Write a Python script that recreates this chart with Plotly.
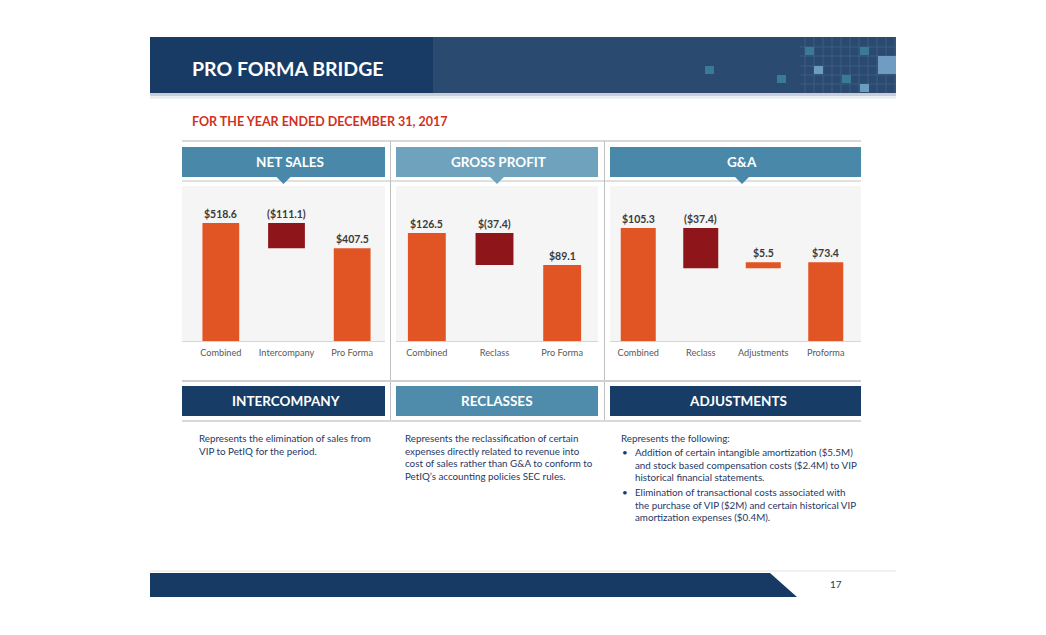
import plotly.graph_objects as go

W, H = 1046, 635
OFF = 8  # page body margin compensation
def px(x): return (x - OFF) / W
def py(y): return 1 - (y - OFF) / H

FONT = "Lato"
ORANGE = "#e05523"
DARKRED = "#8e161b"

# ---------------- data ----------------
ns_cats = ["Combined", "Intercompany", "Pro Forma"]
ns_vals = [518.6, -111.1, 407.5]
ns_meas = ["absolute", "relative", "total"]
ns_text = ["$518.6", "($111.1)", "$407.5"]

gp_cats = ["Combined", "Reclass", "Pro Forma"]
gp_vals = [126.5, -37.4, 89.1]
gp_meas = ["absolute", "relative", "total"]
gp_text = ["$126.5", "$(37.4)", "$89.1"]

ga_cats = ["Combined", "Reclass", "Adjustments", "Proforma"]
ga_vals = [105.3, -37.4, 5.5, 73.4]
ga_meas = ["absolute", "relative", "relative", "total"]
ga_text = ["$105.3", "($37.4)", "$5.5", "$73.4"]

panel_titles = ["NET SALES", "GROSS PROFIT", "G&A"]
bottom_titles = ["INTERCOMPANY", "RECLASSES", "ADJUSTMENTS"]

fig = go.Figure()

panels = [
    (ns_cats, ns_vals, ns_meas, ns_text, "x", "y"),
    (gp_cats, gp_vals, gp_meas, gp_text, "x2", "y2"),
    (ga_cats, ga_vals, ga_meas, ga_text, "x3", "y3"),
]

annotations = []
for cats, vals, meas, texts, xa, ya in panels:
    fig.add_trace(go.Waterfall(
        x=cats, y=vals, measure=meas, xaxis=xa, yaxis=ya,
        width=0.56,
        connector=dict(visible=False),
        increasing=dict(marker=dict(color=ORANGE)),
        decreasing=dict(marker=dict(color=DARKRED)),
        totals=dict(marker=dict(color=ORANGE)),
        textposition="none", hoverinfo="x+y", showlegend=False,
    ))
    cum = 0.0
    for c, v, m, t in zip(cats, vals, meas, texts):
        if m == "relative":
            before = cum
            cum += v
            top = max(before, cum)
        else:
            cum = v
            top = v
        annotations.append(dict(
            x=c, y=top, xref=xa, yref=ya, text=t, showarrow=False,
            yanchor="bottom", yshift=1,
            font=dict(family=FONT, size=10.5, color="#3a3a3a", weight="bold"),
        ))

ydom = [py(341), py(185)]
layout_axes = dict(
    xaxis=dict(domain=[px(188), px(385)], anchor="y"),
    xaxis2=dict(domain=[px(393), px(596)], anchor="y2"),
    xaxis3=dict(domain=[px(607), px(857)], anchor="y3"),
    yaxis=dict(domain=ydom, range=[0, 685.6], anchor="x"),
    yaxis2=dict(domain=ydom, range=[0, 182.7], anchor="x2"),
    yaxis3=dict(domain=ydom, range=[0, 145.4], anchor="x3"),
)
for k, v in layout_axes.items():
    if k.startswith("x"):
        v.update(showgrid=False, zeroline=False, showline=False, ticks="",
                 ticklabelstandoff=5,
                 tickfont=dict(family=FONT, size=9.2, color="#595959"),
                 fixedrange=True)
    else:
        v.update(visible=False, fixedrange=True)

shapes = []
def rect(x0, y0, x1, y1, color, layer="below"):
    shapes.append(dict(type="rect", xref="paper", yref="paper",
                       x0=px(x0), x1=px(x1), y0=py(y1), y1=py(y0),
                       fillcolor=color, line=dict(width=0), layer=layer))
def hline(x0, x1, y, color, w=1):
    shapes.append(dict(type="line", xref="paper", yref="paper",
                       x0=px(x0), x1=px(x1), y0=py(y), y1=py(y),
                       line=dict(color=color, width=w), layer="below"))
def vline(x, y0, y1, color, w=1):
    shapes.append(dict(type="line", xref="paper", yref="paper",
                       x0=px(x), x1=px(x), y0=py(y0), y1=py(y1),
                       line=dict(color=color, width=w), layer="below"))
def poly(pts, color, layer="below"):
    d = "M " + " L ".join(f"{px(a)},{py(b)}" for a, b in pts) + " Z"
    shapes.append(dict(type="path", xref="paper", yref="paper", path=d,
                       fillcolor=color, line=dict(width=0), layer=layer))

# header banner
rect(150, 37, 433, 93, "#173b65")
rect(433, 37, 896, 93, "#2b4a70")
rect(150, 93, 896, 96, "#c9ced6")
rect(150, 96, 896, 99, "#eceff2")
for gx in range(805, 896, 9):
    vline(gx, 37, 93, "#3d5c82")
for gy in [47, 56, 66, 75, 84]:
    hline(800, 896, gy, "#3d5c82")
for (x0, y0, c) in [(705, 66, "#3a7a96"), (777, 75, "#3a7a96"), (805, 47, "#3a7a96"),
                    (814, 66, "#6b9dc0"), (842, 75, "#3a7a96"), (860, 47, "#3a7a96"),
                    (860, 84, "#6b9dc0")]:
    rect(x0, y0, x0 + 9, y0 + 8, c)
rect(878, 56, 896, 74, "#6f9cc0")

# chart region frame lines
hline(182, 861, 141, "#d9d9d9", 2)
hline(182, 861, 181, "#e0e0e0", 2)
vline(390.5, 141, 422, "#bfbfbf", 1)
vline(604.5, 141, 422, "#bfbfbf", 1)

# chart backgrounds & baselines
for x0, x1 in [(182, 385), (396, 598), (610, 861)]:
    rect(x0, 186, x1, 341, "#f5f5f5")
    hline(x0, x1, 341.5, "#d6d6d6", 1)

# panel headers with pointer
for (x0, x1, c, cx) in [(182, 385, "#4a88a9", 283.5), (396, 598, "#6fa3bd", 497),
                        (610, 861, "#4a88a9", 742)]:
    rect(x0, 147, x1, 177, c)
    poly([(cx - 7, 177), (cx + 7, 177), (cx, 184)], c)

# bottom headers
hline(182, 861, 381, "#cfcfcf", 2)
hline(182, 861, 421, "#d9d9d9", 2)
for (x0, x1, c) in [(182, 385, "#173c66"), (396, 598, "#4f8bab"), (610, 861, "#173c66")]:
    rect(x0, 386, x1, 416, c)

# footer
hline(150, 896, 571, "#e3e3e3", 1)
poly([(150, 573), (770, 573), (797, 597), (150, 597)], "#163a63")

def ann(x, y, text, size, color, bold=False, xanchor="left", yanchor="middle", align="left"):
    f = dict(family=FONT, size=size, color=color)
    if bold:
        f["weight"] = "bold"
    annotations.append(dict(x=px(x), y=py(y), xref="paper", yref="paper", text=text,
                            showarrow=False, xanchor=xanchor, yanchor=yanchor,
                            align=align, font=f))

ann(190, 68, "PRO FORMA BRIDGE", 19.5, "white", bold=True)
ann(190, 121, "FOR THE YEAR ENDED DECEMBER 31, 2017", 12.5, "#d0311f", bold=True)

for t, cx in zip(panel_titles, [290, 498.5, 742]):
    ann(cx, 162, t, 13.5, "white", bold=True, xanchor="center")
for t, cx in zip(bottom_titles, [286, 497, 738]):
    ann(cx, 401, t, 13.5, "white", bold=True, xanchor="center")

TXT = "#1f3864"
ann(197, 430, "Represents the elimination of sales from<br>VIP to PetIQ for the period.",
    9.8, TXT, yanchor="top")
ann(403, 430, "Represents the reclassification of certain<br>expenses directly related to revenue into<br>"
    "cost of sales rather than G&A to conform to<br>PetIQ’s accounting policies SEC rules.",
    9.8, TXT, yanchor="top")
ann(619, 430, "Represents the following:", 9.8, TXT, yanchor="top")
ann(620, 444, "•", 9.8, TXT, yanchor="top")
ann(633, 444, "Addition of certain intangible amortization ($5.5M)<br>and stock based compensation costs ($2.4M) to VIP<br>"
    "historical financial statements.", 9.8, TXT, yanchor="top")
ann(620, 484, "•", 9.8, TXT, yanchor="top")
ann(633, 484, "Elimination of transactional costs associated with<br>the purchase of VIP ($2M) and certain historical VIP<br>"
    "amortization expenses ($0.4M).", 9.8, TXT, yanchor="top")

ann(836, 584, "17", 10, "#1f3864", xanchor="center")

fig.update_layout(
    width=W, height=H, margin=dict(l=0, r=0, t=0, b=0),
    paper_bgcolor="white", plot_bgcolor="rgba(0,0,0,0)",
    shapes=shapes, annotations=annotations, showlegend=False,
    font=dict(family=FONT),
    **layout_axes,
)

fig.write_html("out.html")
